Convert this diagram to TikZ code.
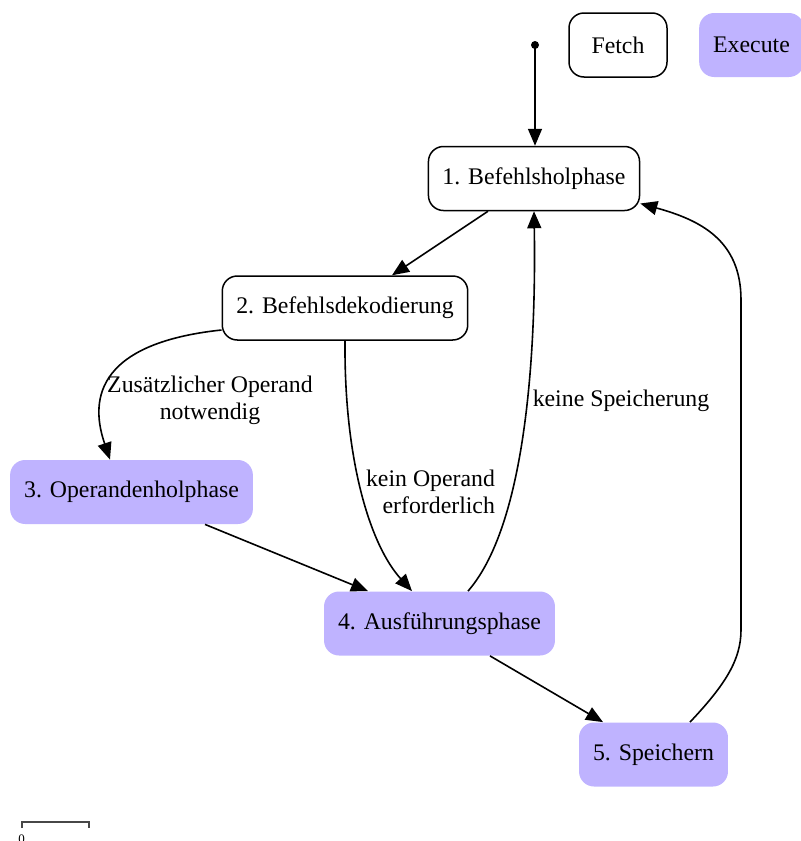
\documentclass[tikz,border=0pt]{standalone}
\usepackage{fontspec}
\setmainfont{Liberation Serif}
\usetikzlibrary{arrows.meta}
\definecolor{execfill}{RGB}{191,179,255}
\tikzset{
	phase/.style={rounded corners=7.5pt,minimum height=32pt,minimum width=49pt,inner xsep=7pt},
	fetchphase/.style={phase,draw,line width=0.75pt},
	execphase/.style={phase,fill=execfill},
	arr/.style={-{Triangle[length=8.5pt,width=7pt]},line width=0.8pt},
}
\begin{document}
\begin{tikzpicture}[x=0.5pt,y=-0.5pt,font=\fontsize{11.9}{13.5}\selectfont]
			\useasboundingbox (0,0) rectangle (800,841);
			%%% legend
			\path (618,45) node[fetchphase] (fetch) {Fetch};
			\path (751.5,45) node[execphase] (execute) {Execute};
			%%% phases
			\path (535,45) coordinate (start);
			\fill (start) circle (2pt);
			\path (534,178.5) node[fetchphase] (hol) {1. Befehlsholphase};
			\path (345,308) node[fetchphase] (deko) {2. Befehlsdekodierung};
			\path (131.5,492) node[execphase] (opnd) {3. Operandenholphase};
			\path (439.5,623.5) node[execphase] (ausf) {4. Ausführungsphase};
			\path (653.5,754.5) node[execphase] (speich) {5. Speichern};
			%%% labels
			\path (210,400) node[align=center] (zusatz) {Zusätzlicher Operand\\notwendig};
			\path (502,492) node[align=right,anchor=east] (keinop) {kein Operand\\erforderlich};
			\path (621,401) node (keinsp) {keine Speicherung};
			%%% transitions
			\draw[arr] (start)--(start |- hol.north);
			\draw[arr] ([xshift=-23pt]hol.south)--([xshift=23.5pt]deko.north);
			\draw[arr] ([yshift=-11pt]deko.west) .. controls (80,345) and (95,415) .. ([xshift=-10.75pt]opnd.north);
			\draw[arr] (deko.south) .. controls (344,460) and (370,545) .. ([xshift=-13.75pt]ausf.north);
			\draw[arr] ([xshift=36.75pt]opnd.south)--([xshift=-35.75pt]ausf.north);
			\draw[arr] ([xshift=14.25pt]ausf.north) .. controls (530,520) and (536,330) .. (hol.south);
			\draw[arr] ([xshift=25.25pt]ausf.south)--([xshift=-25.25pt]speich.north);
			\draw[arr] ([xshift=18.25pt]speich.north) .. controls (725,685) and (741,660) .. (741,630)--(741,300) .. controls (741,240) and (700,220) .. ([yshift=-12.5pt]hol.east);
			%%% scale
			\draw[line width=1pt,black!72] (22,828)--(22,822)--(89,822)--(89,828);
			\path (21.5,834) node[anchor=north,inner sep=0pt,font=\fontsize{6.5}{7}\selectfont] (zero) {0};
\end{tikzpicture}
\end{document}
